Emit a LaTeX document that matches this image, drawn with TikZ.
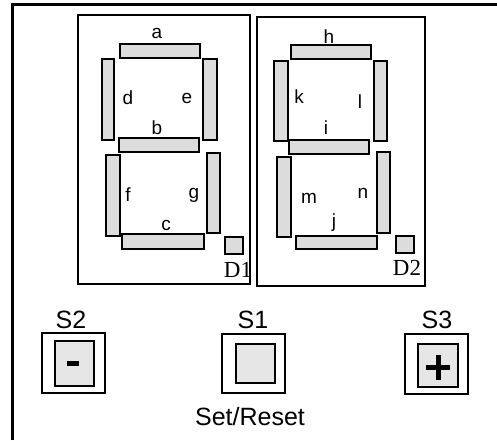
\documentclass[tikz,border=0pt]{standalone}
\usepackage{fontspec}
\setmainfont{Liberation Sans}
\newfontfamily\timesf{Liberation Serif}
\begin{document}
\begin{tikzpicture}[x=1pt,y=-1pt,
  seg/.style={draw=black,fill=segfill,line width=1.5pt},
  box/.style={draw=black,line width=1.4pt},
  btnout/.style={draw=black,fill=white,line width=1.4pt},
  btnin/.style={draw=black,fill=btnfill,line width=1.4pt},
  lbl/.style={font=\fontsize{19}{22}\selectfont,inner sep=0pt},
  slbl/.style={font=\fontsize{25}{28}\selectfont,inner sep=0pt},
  dlbl/.style={font=\timesf\fontsize{23}{26}\selectfont,inner sep=0pt}]
\definecolor{segfill}{HTML}{DCDCDC}
\definecolor{btnfill}{HTML}{E6E6E6}
\useasboundingbox (0,0) rectangle (497,440);
% outer frame
\draw[line width=2.4pt] (12.5,440) -- (12.5,4.5) -- (497,4.5);
% display boxes
\draw[box] (78,15) rectangle (250,284);
\draw[box] (257,17) rectangle (425,286);
% left digit
\draw[seg] (120,44) rectangle (200,58);
\draw[seg] (102,59) rectangle (114,140);
\draw[seg] (203,59) rectangle (217,140);
\draw[seg] (119,138) rectangle (199,152);
\draw[seg] (106,155) rectangle (120,236);
\draw[seg] (207,153) rectangle (220,233);
\draw[seg] (122,234) rectangle (204,249);
\draw[seg] (225,237) rectangle (243,254);
\node[lbl] (la) at (157,33) {a};
\node[lbl] (ld) at (128,98) {d};
\node[lbl] (le) at (187,98) {e};
\node[lbl] (lb) at (157,128) {b};
\node[lbl] (lf) at (128,195) {f};
\node[lbl] (lg) at (194,195) {g};
\node[lbl] (lc) at (166,225) {c};
\node[dlbl] (d1) at (238,270) {D1};
% right digit
\draw[seg] (291,45) rectangle (371,59);
\draw[seg] (274,61) rectangle (288,141);
\draw[seg] (374,61) rectangle (387,141);
\draw[seg] (289,140) rectangle (369,154);
\draw[seg] (277,157) rectangle (291,237);
\draw[seg] (377,152) rectangle (390,233);
\draw[seg] (296,236) rectangle (377,249);
\draw[seg] (396,236) rectangle (414,253);
\node[lbl] (lh) at (329,37) {h};
\node[lbl] (lk) at (299,97) {k};
\node[lbl] (ll) at (360,102) {l};
\node[lbl] (li) at (326,128) {i};
\node[lbl] (lm) at (309,198) {m};
\node[lbl] (ln) at (363,193) {n};
\node[lbl] (lj) at (334,223) {j};
\node[dlbl] (d2) at (407,268) {D2};
% buttons
\draw[btnout] (42,333) rectangle (105,393);
\draw[btnin] (55,341) rectangle (94,386);
\fill[black] (67,361) rectangle (79,366);
\draw[btnout] (222,334) rectangle (285,393);
\draw[btnin] (236,344) rectangle (275,383);
\draw[btnout] (405,334) rectangle (468,394);
\draw[btnin] (418,344) rectangle (458,387);
\fill[black] (426,365) rectangle (450,370);
\fill[black] (435.5,355) rectangle (440.5,380);
\node[slbl] (s2) at (71,320) {S2};
\node[slbl] (s1) at (253,320) {S1};
\node[slbl] (s3) at (437,320) {S3};
\node[slbl] (sr) at (250,417) {Set/Reset};
\end{tikzpicture}
\end{document}
